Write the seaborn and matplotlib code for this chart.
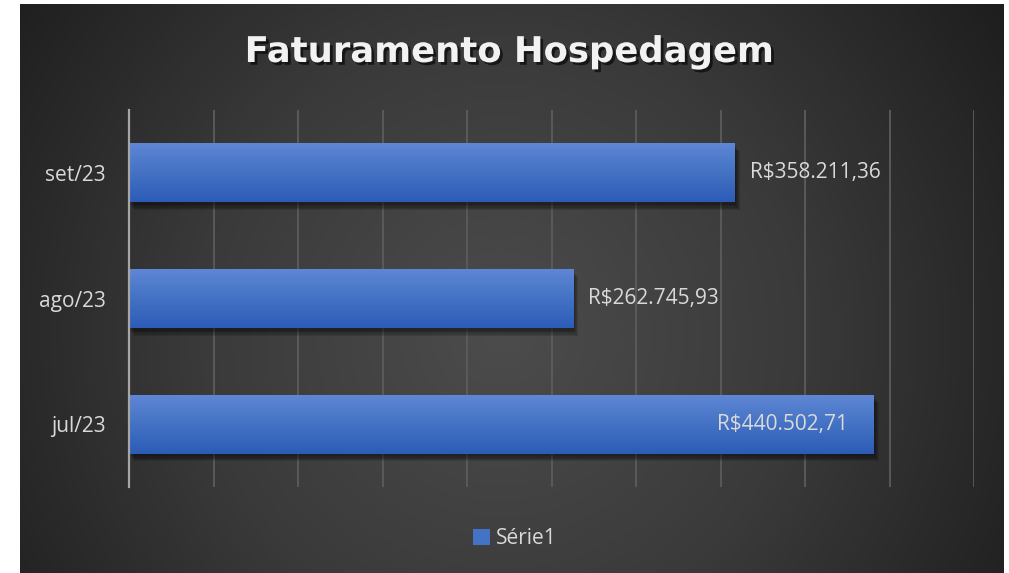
"""
Faturamento Hospedagem - barras horizontais por mes
"""

import numpy as np
import pandas as pd
import seaborn as sns
import matplotlib.pyplot as plt
import matplotlib.patheffects as pe
from matplotlib.colors import LinearSegmentedColormap
from matplotlib.patches import Patch

meses = ["set/23", "ago/23", "jul/23"]
faturamento = [358211.36, 262745.93, 440502.71]
rotulos = ["R$358.211,36", "R$262.745,93", "R$440.502,71"]
serie = "Série1"
titulo = "Faturamento Hospedagem"

sns.set_theme(style="white")
plt.rcParams["font.family"] = ["Open Sans", "DejaVu Sans"]

W, H = 1009, 573
fig = plt.figure(figsize=(W / 100, H / 100), dpi=100)
fig.patch.set_facecolor("white")

# fundo escuro com gradiente radial
bg = fig.add_axes([20 / W, 0, 984 / W, 569 / H], zorder=-5)
yy, xx = np.mgrid[0:569, 0:984]
r = np.clip(np.hypot(xx - 480, yy - 330) / 600, 0, 1)
bg_cmap = LinearSegmentedColormap.from_list("bg", ["#4c4c4c", "#3a3a3a", "#1e1e1e"])
bg.imshow(r, cmap=bg_cmap, vmin=0, vmax=1, aspect="auto", interpolation="bilinear")
bg.set_axis_off()

ax = fig.add_axes([129 / W, 1 - 487 / H, 845 / W, 377 / H])
ax.set_facecolor("none")

df = pd.DataFrame({"mes": meses, "valor": faturamento})
sns.barplot(data=df, x="valor", y="mes", orient="h", color="#4472c4",
            width=0.47, ax=ax, zorder=3, linewidth=0, edgecolor="none")

bar_cmap = LinearSegmentedColormap.from_list("bar", ["#5f87d5", "#4472c4", "#2c5cb7"])
grad = np.linspace(0, 1, 100).reshape(-1, 1)
# sombra suave: varias camadas deslocadas com alpha baixo
sombra = [pe.SimplePatchShadow(offset=(1 + k * 0.7, -2 - k * 0.9), shadow_rgbFace="black", alpha=0.12)
          for k in range(5)]
for p in ax.patches:
    p.set_path_effects(sombra + [pe.Normal()])
    x0, y0, w, h = p.get_x(), p.get_y(), p.get_width(), p.get_height()
    im = ax.imshow(grad, cmap=bar_cmap, extent=[x0, x0 + w, y0, y0 + h], origin="lower",
                   aspect="auto", zorder=4, interpolation="bilinear")
    im.set_clip_path(p)

ax.set_xlim(0, 500000)
ax.set_ylim(2.5, -0.5)
ax.set_xticks(np.arange(0, 500001, 50000))
ax.set_xticklabels([])
ax.grid(axis="x", color="#5c5c5c", lw=1.3, zorder=0)
ax.grid(axis="y", visible=False)
ax.set_xlabel("")
ax.set_ylabel("")
for s in ["top", "right", "bottom"]:
    ax.spines[s].set_visible(False)
ax.spines["left"].set_color("#a6a6a6")
ax.spines["left"].set_linewidth(1.6)
ax.spines["left"].set_zorder(5)
ax.tick_params(axis="y", length=0, pad=17, labelsize=15, labelcolor="#d9d9d9")
ax.tick_params(axis="x", length=0)

for i, (v, lab) in enumerate(zip(faturamento, rotulos)):
    if v > 400000:
        ax.annotate(lab, (v, i), xytext=(-18, 0), textcoords="offset points",
                    ha="right", va="center", color="#d9d9d9", fontsize=15, zorder=6)
    else:
        ax.annotate(lab, (v, i), xytext=(11, 0), textcoords="offset points",
                    ha="left", va="center", color="#d9d9d9", fontsize=15, zorder=6)

fig.text(509 / W, 1 - 52 / H, titulo, ha="center", va="center", color="#f2f2f2",
         fontsize=25.5, fontweight="bold", family=["DejaVu Sans"],
         path_effects=[pe.withSimplePatchShadow(offset=(2, -2), shadow_rgbFace="black", alpha=0.6)])

fig.legend(handles=[Patch(facecolor="#4472c4", edgecolor="none", label=serie)], loc="center",
           bbox_to_anchor=(515 / W, 1 - 539 / H), frameon=False, fontsize=15,
           labelcolor="#d9d9d9", handlelength=0.8, handleheight=0.8, handletextpad=0.3)

fig.savefig("out.png", dpi=100)
